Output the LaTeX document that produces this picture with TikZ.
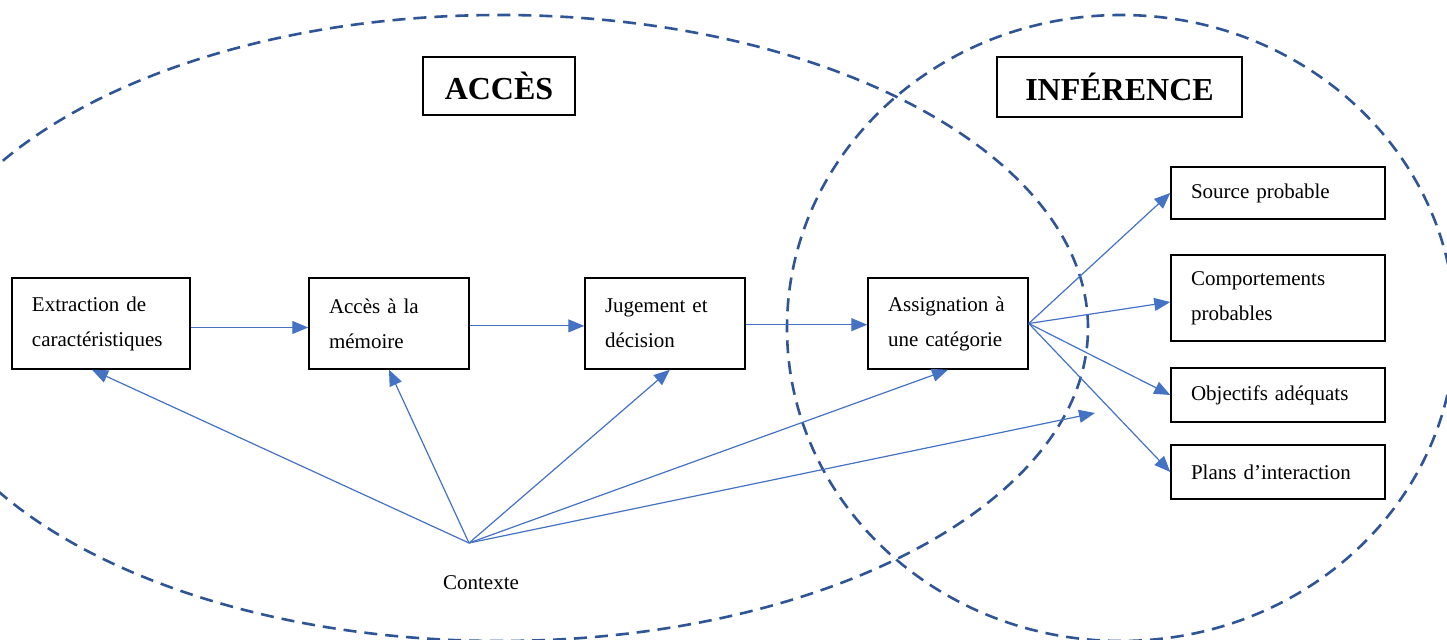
\documentclass[tikz,border=0pt]{standalone}
\usepackage{fontspec}
\setmainfont{Liberation Serif}
\usetikzlibrary{arrows.meta}
\definecolor{arrowblue}{HTML}{4472C4}
\definecolor{ringblue}{HTML}{2F5597}
\tikzset{
  stepbox/.style={draw=black, line width=0.75pt, fill=white, align=left,
    inner xsep=10pt, inner ysep=0pt,
    font=\fontsize{10.5}{17.5}\selectfont},
  titlebox/.style={draw=black, line width=0.75pt, fill=white, inner sep=0pt,
    font=\fontsize{16}{19}\selectfont\bfseries},
  conn/.style={draw=arrowblue, line width=0.6pt,
    -{Triangle[length=8pt,width=6.5pt]}},
  ring/.style={draw=ringblue, line width=1.3pt, dash pattern=on 6.5pt off 4pt}
}
\begin{document}
\begin{tikzpicture}[x=0.5pt,y=-0.5pt]
\useasboundingbox (0,0) rectangle (1447,640);
\fill[white] (0,0) rectangle (1447,640);
\begin{scope}
  \clip (0,0) rectangle (1447,640);
  \draw[ring] (500,328) ellipse [x radius=294pt, y radius=156.5pt];
  \draw[ring] (1121,328) ellipse [x radius=167pt, y radius=156.5pt];
\end{scope}

% titles
\node[titlebox, minimum width=76pt, minimum height=29pt] (acces) at (499,86) {ACCÈS};
\node[titlebox, minimum width=122.5pt, minimum height=30pt] (inference) at (1119.5,87) {INFÉRENCE};

% process boxes
\node[stepbox, text width=69pt, minimum height=45.5pt] (ext) at (101,323.5) {Extraction de\\caractéristiques};
\node[stepbox, text width=60pt, minimum height=45.5pt] (acc) at (389,323.5) {Accès à la\\mémoire};
\node[stepbox, text width=60pt, minimum height=45.5pt] (jug) at (665,323.5) {Jugement et\\décision};
\node[stepbox, text width=60pt, minimum height=45.5pt] (asg) at (948,323.5) {Assignation à\\une catégorie};

% inference boxes
\node[stepbox, text width=87pt, minimum height=26pt] (src) at (1278,193) {Source probable};
\node[stepbox, text width=87pt, minimum height=43pt] (cmp) at (1278,298) {Comportements\\probables};
\node[stepbox, text width=87pt, minimum height=27pt] (obj) at (1278,395) {Objectifs adéquats};
\node[stepbox, text width=87pt, minimum height=27pt] (pla) at (1278,472) {Plans d’interaction};

% context
\coordinate (ctx) at (469,543);
\node[font=\fontsize{10.5}{12}\selectfont, inner sep=0pt] (ctxlabel) at (481,583) {Contexte};
\coordinate (free) at (1095,413);

% main chain
\draw[conn] ([yshift=-2pt]ext.east) -- ([yshift=-2pt]acc.west);
\draw[conn] ([yshift=-1.2pt]acc.east) -- ([yshift=-1.2pt]jug.west);
\draw[conn] ([yshift=-0.6pt]jug.east) -- ([yshift=-0.6pt]asg.west);

% fan out
\draw[conn] (asg.east) -- (src.west);
\draw[conn] (asg.east) -- ([yshift=-2pt]cmp.west);
\draw[conn] (asg.east) -- (obj.west);
\draw[conn] (asg.east) -- (pla.west);

% context arrows
\draw[conn] (ctx) -- (ext.259);
\draw[conn] (ctx) -- (acc.south);
\draw[conn] (ctx) -- (jug.276);
\draw[conn] (ctx) -- (asg.south);
\draw[conn] (ctx) -- (free);
\end{tikzpicture}
\end{document}
